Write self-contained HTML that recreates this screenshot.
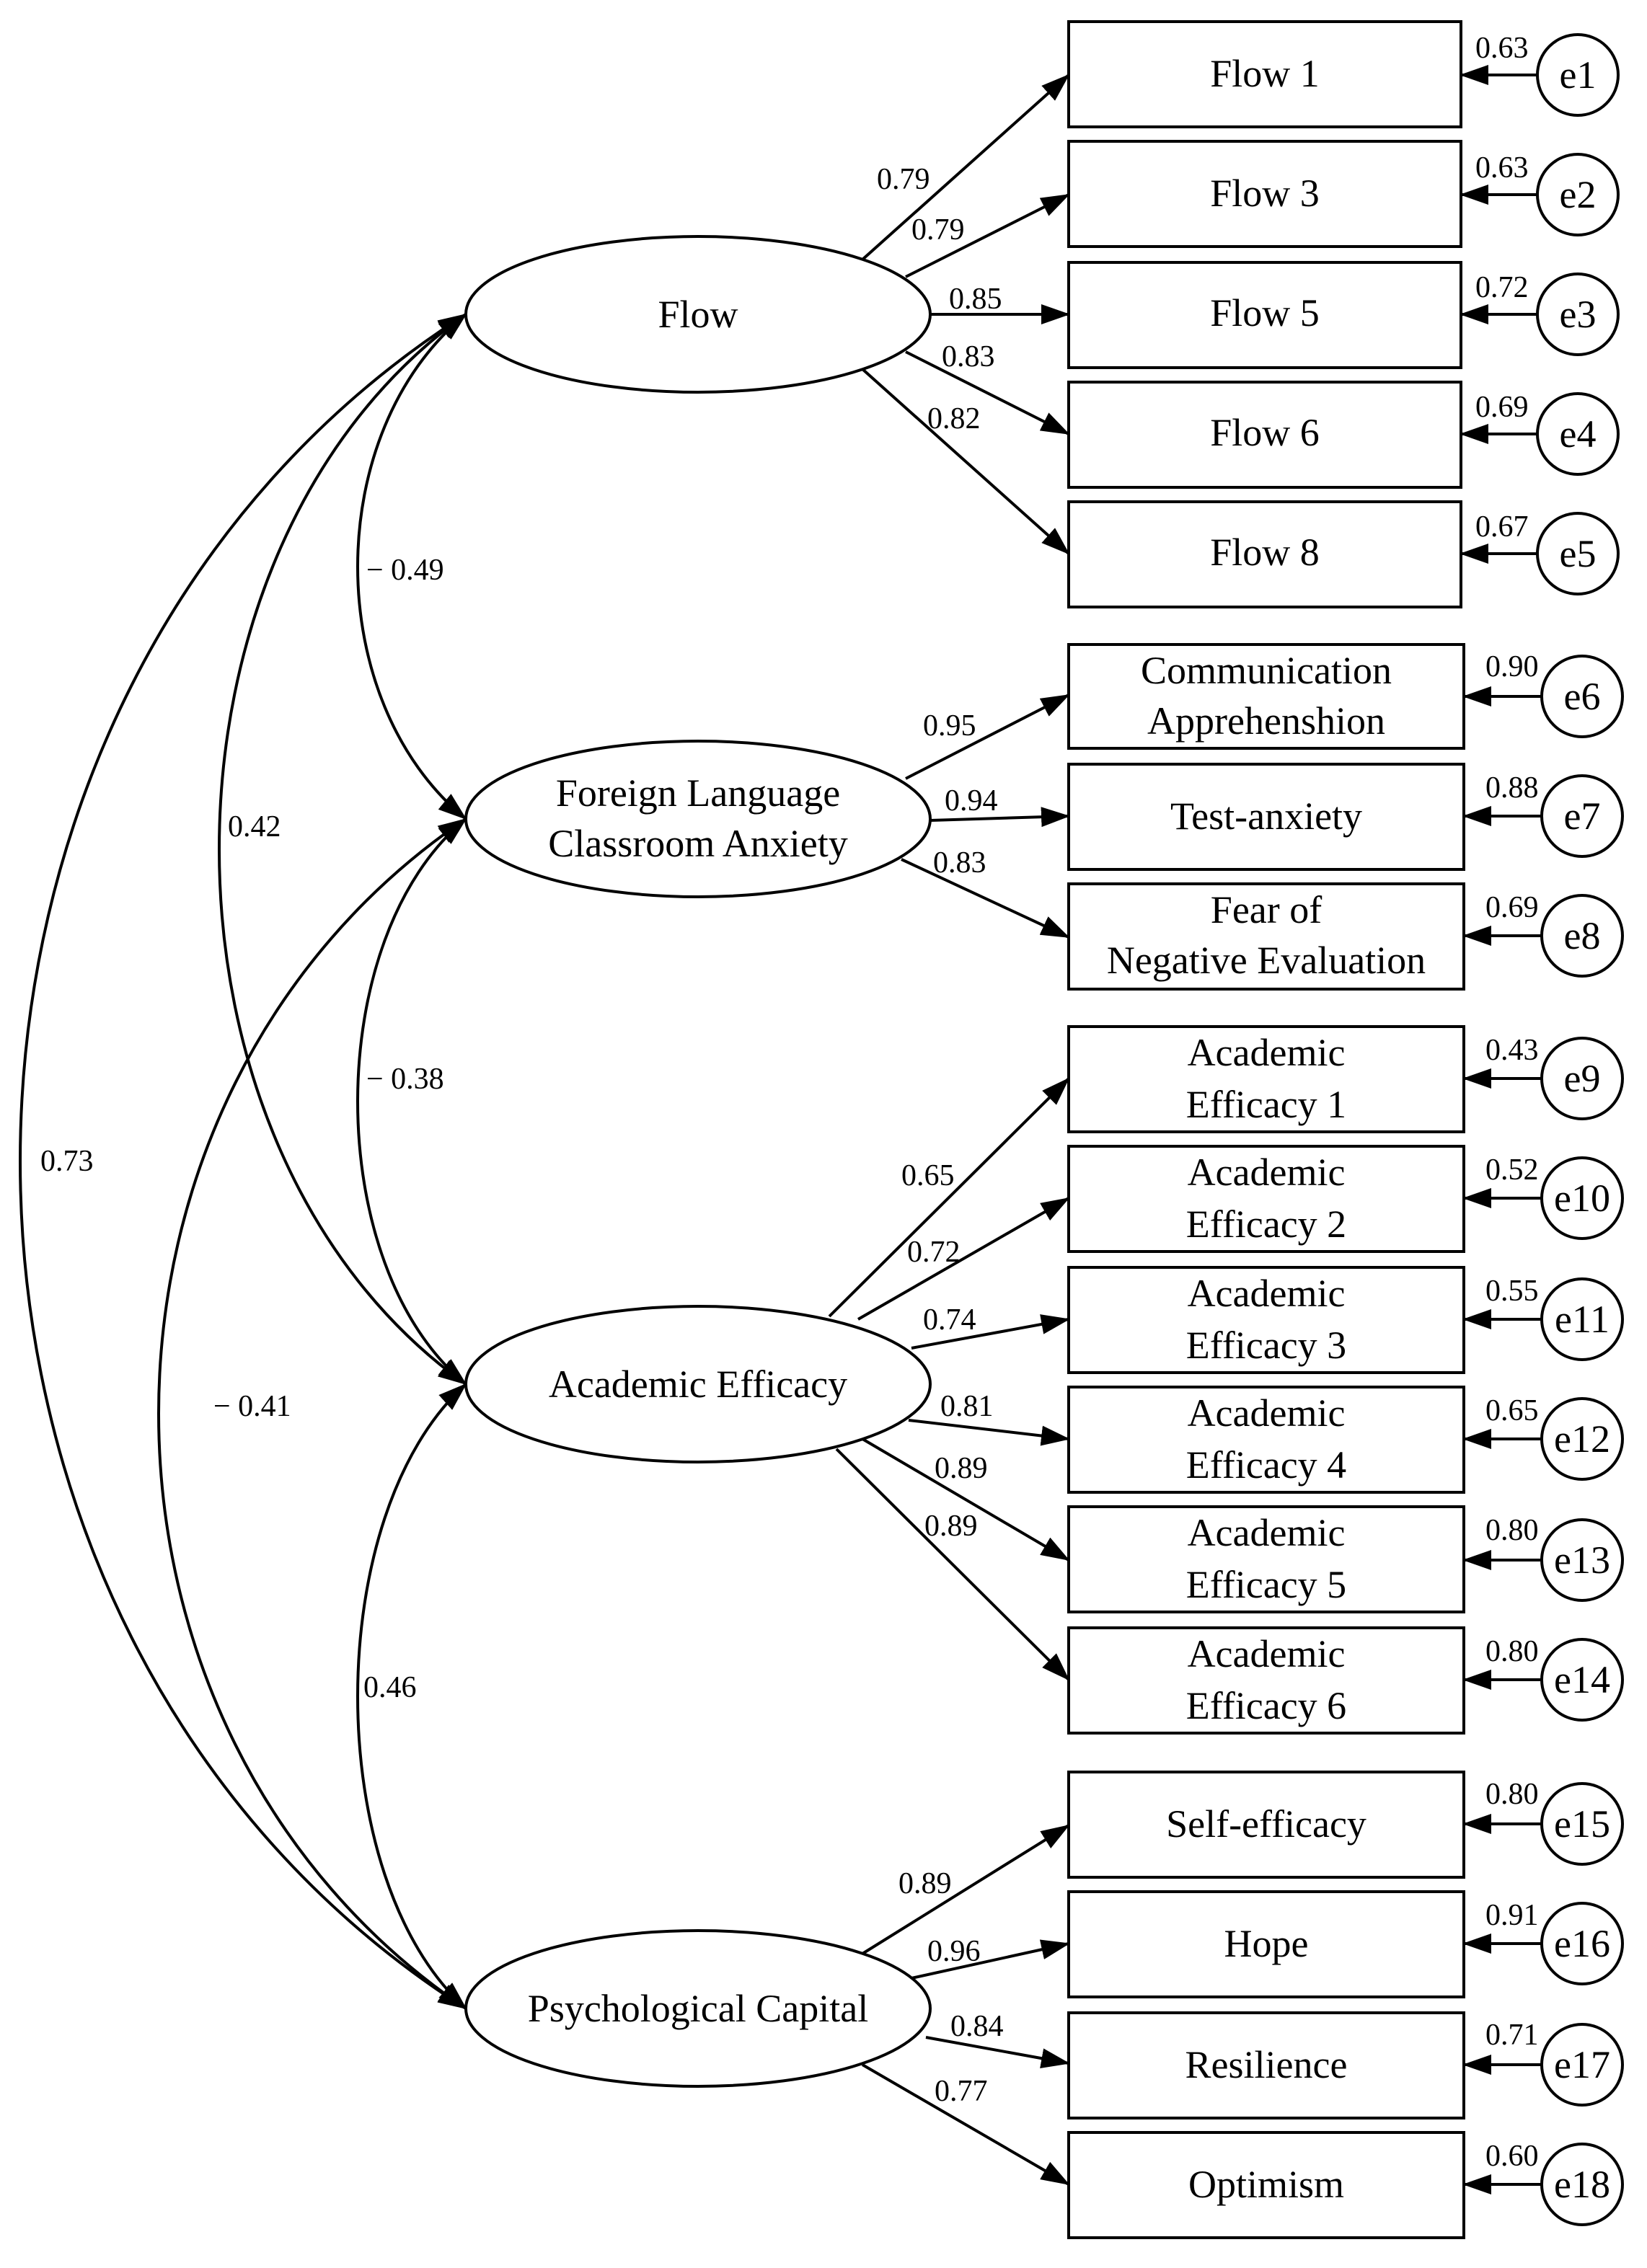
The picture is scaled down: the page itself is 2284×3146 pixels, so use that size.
<!DOCTYPE html>
<html><head><meta charset="utf-8"><style>
html,body{margin:0;padding:0;background:#fff;}
svg{display:block;}
text{font-family:"Liberation Serif",serif;fill:#000;}
.n{font-size:21px;}
.b{font-size:27px;text-anchor:middle;}
</style></head><body>
<svg width="2284" height="3146" viewBox="0 0 1142 1573" xmlns="http://www.w3.org/2000/svg">
<defs>
<marker id="a" markerWidth="20" markerHeight="14" refX="19" refY="7" orient="auto-start-reverse" markerUnits="userSpaceOnUse">
<path d="M0,0 L20,7 L0,14 Z" fill="#000"/>
</marker>
</defs>
<g fill="none" stroke="#000" stroke-width="2">
<rect x="741" y="15" width="272" height="73"/>
<rect x="741" y="98" width="272" height="73"/>
<rect x="741" y="182" width="272" height="73"/>
<rect x="741" y="265" width="272" height="73"/>
<rect x="741" y="348" width="272" height="73"/>
<rect x="741" y="447" width="274" height="72"/>
<rect x="741" y="530" width="274" height="73"/>
<rect x="741" y="613" width="274" height="73"/>
<rect x="741" y="712" width="274" height="73"/>
<rect x="741" y="795" width="274" height="73"/>
<rect x="741" y="879" width="274" height="73"/>
<rect x="741" y="962" width="274" height="73"/>
<rect x="741" y="1045" width="274" height="73"/>
<rect x="741" y="1129" width="274" height="73"/>
<rect x="741" y="1229" width="274" height="73"/>
<rect x="741" y="1312" width="274" height="73"/>
<rect x="741" y="1396" width="274" height="73"/>
<rect x="741" y="1479" width="274" height="73"/>
<ellipse cx="484" cy="218" rx="161" ry="54"/>
<ellipse cx="484" cy="568" rx="161" ry="54"/>
<ellipse cx="484" cy="960" rx="161" ry="54"/>
<ellipse cx="484" cy="1393" rx="161" ry="54"/>
<circle cx="1094" cy="52" r="28"/>
<circle cx="1094" cy="135" r="28"/>
<circle cx="1094" cy="218" r="28"/>
<circle cx="1094" cy="301" r="28"/>
<circle cx="1094" cy="384" r="28"/>
<circle cx="1097" cy="483" r="28"/>
<circle cx="1097" cy="566" r="28"/>
<circle cx="1097" cy="649" r="28"/>
<circle cx="1097" cy="748" r="28"/>
<circle cx="1097" cy="831" r="28"/>
<circle cx="1097" cy="915" r="28"/>
<circle cx="1097" cy="998" r="28"/>
<circle cx="1097" cy="1082" r="28"/>
<circle cx="1097" cy="1165" r="28"/>
<circle cx="1097" cy="1265" r="28"/>
<circle cx="1097" cy="1348" r="28"/>
<circle cx="1097" cy="1432" r="28"/>
<circle cx="1097" cy="1515" r="28"/>
</g>
<g fill="none" stroke="#000" stroke-width="2" marker-end="url(#a)">
<path d="M1066,52 H1013"/><path d="M1066,135 H1013"/><path d="M1066,218 H1013"/><path d="M1066,301 H1013"/><path d="M1066,384 H1013"/>
<path d="M1069,483 H1015"/><path d="M1069,566 H1015"/><path d="M1069,649 H1015"/>
<path d="M1069,748 H1015"/><path d="M1069,831 H1015"/><path d="M1069,915 H1015"/><path d="M1069,998 H1015"/><path d="M1069,1082 H1015"/><path d="M1069,1165 H1015"/>
<path d="M1069,1265 H1015"/><path d="M1069,1348 H1015"/><path d="M1069,1432 H1015"/><path d="M1069,1515 H1015"/>
<path d="M598,180 L741,52"/><path d="M628,192 L741,135"/><path d="M645,218 L741,218"/><path d="M628,244 L741,301"/><path d="M598,256 L741,384"/>
<path d="M628,540 L741,482"/><path d="M645,569 L741,566"/><path d="M625,596 L741,650"/>
<path d="M575,913 L741,748"/><path d="M595,915 L741,831"/><path d="M632,935 L741,915"/><path d="M630,985 L741,998"/><path d="M598,998 L741,1082"/><path d="M580,1005 L741,1165"/>
<path d="M598,1355 L741,1266"/><path d="M632,1372 L741,1348"/><path d="M642,1413 L741,1431"/><path d="M598,1432 L741,1515"/>
</g>
<g fill="none" stroke="#000" stroke-width="2" marker-start="url(#a)" marker-end="url(#a)">
<path d="M323,218 C223,300 223,486 323,568"/>
<path d="M323,218 C95,380 95,798 323,960"/>
<path d="M323,218 C-89,480 -89,1131 323,1393"/>
<path d="M323,568 C223,650 223,878 323,960"/>
<path d="M323,568 C39,760 39,1201 323,1393"/>
<path d="M323,960 C223,1050 223,1303 323,1393"/>
</g>
<g class="n">
<text x="608" y="131">0.79</text><text x="632" y="166">0.79</text><text x="658" y="214">0.85</text><text x="653" y="254">0.83</text><text x="643" y="297">0.82</text>
<text x="640" y="510">0.95</text><text x="655" y="562">0.94</text><text x="647" y="605">0.83</text>
<text x="625" y="822">0.65</text><text x="629" y="875">0.72</text><text x="640" y="922">0.74</text><text x="652" y="982">0.81</text><text x="648" y="1025">0.89</text><text x="641" y="1065">0.89</text>
<text x="623" y="1313">0.89</text><text x="643" y="1360">0.96</text><text x="659" y="1412">0.84</text><text x="648" y="1457">0.77</text>
<text x="254" y="402">− 0.49</text><text x="158" y="580">0.42</text><text x="28" y="812">0.73</text>
<text x="254" y="755">− 0.38</text><text x="148" y="982">− 0.41</text><text x="252" y="1177">0.46</text>
<text x="1023" y="40">0.63</text><text x="1023" y="123">0.63</text><text x="1023" y="206">0.72</text><text x="1023" y="289">0.69</text><text x="1023" y="372">0.67</text>
<text x="1030" y="469">0.90</text><text x="1030" y="553">0.88</text><text x="1030" y="636">0.69</text>
<text x="1030" y="735">0.43</text><text x="1030" y="818">0.52</text><text x="1030" y="902">0.55</text><text x="1030" y="985">0.65</text><text x="1030" y="1068">0.80</text><text x="1030" y="1152">0.80</text>
<text x="1030" y="1251">0.80</text><text x="1030" y="1335">0.91</text><text x="1030" y="1418">0.71</text><text x="1030" y="1502">0.60</text>
</g>
<g class="b">
<text x="877" y="60">Flow 1</text><text x="877" y="143">Flow 3</text><text x="877" y="226">Flow 5</text><text x="877" y="309">Flow 6</text><text x="877" y="392">Flow 8</text>
<text x="878" y="474">Communication</text><text x="878" y="509">Apprehenshion</text>
<text x="878" y="575">Test-anxiety</text>
<text x="878" y="640">Fear of</text><text x="878" y="675">Negative Evaluation</text>
<text x="878" y="739">Academic</text><text x="878" y="775">Efficacy 1</text>
<text x="878" y="822">Academic</text><text x="878" y="858">Efficacy 2</text>
<text x="878" y="906">Academic</text><text x="878" y="942">Efficacy 3</text>
<text x="878" y="989">Academic</text><text x="878" y="1025">Efficacy 4</text>
<text x="878" y="1072">Academic</text><text x="878" y="1108">Efficacy 5</text>
<text x="878" y="1156">Academic</text><text x="878" y="1192">Efficacy 6</text>
<text x="878" y="1274">Self-efficacy</text><text x="878" y="1357">Hope</text><text x="878" y="1441">Resilience</text><text x="878" y="1524">Optimism</text>
<text x="484" y="227">Flow</text>
<text x="484" y="559">Foreign Language</text><text x="484" y="594">Classroom Anxiety</text>
<text x="484" y="969">Academic Efficacy</text>
<text x="484" y="1402">Psychological Capital</text>
<text x="1094" y="61">e1</text><text x="1094" y="144">e2</text><text x="1094" y="227">e3</text><text x="1094" y="310">e4</text><text x="1094" y="393">e5</text>
<text x="1097" y="492">e6</text><text x="1097" y="575">e7</text><text x="1097" y="658">e8</text><text x="1097" y="757">e9</text>
<text x="1097" y="840">e10</text><text x="1097" y="924">e11</text><text x="1097" y="1007">e12</text><text x="1097" y="1091">e13</text><text x="1097" y="1174">e14</text>
<text x="1097" y="1274">e15</text><text x="1097" y="1357">e16</text><text x="1097" y="1441">e17</text><text x="1097" y="1524">e18</text>
</g>
</svg>
</body></html>
